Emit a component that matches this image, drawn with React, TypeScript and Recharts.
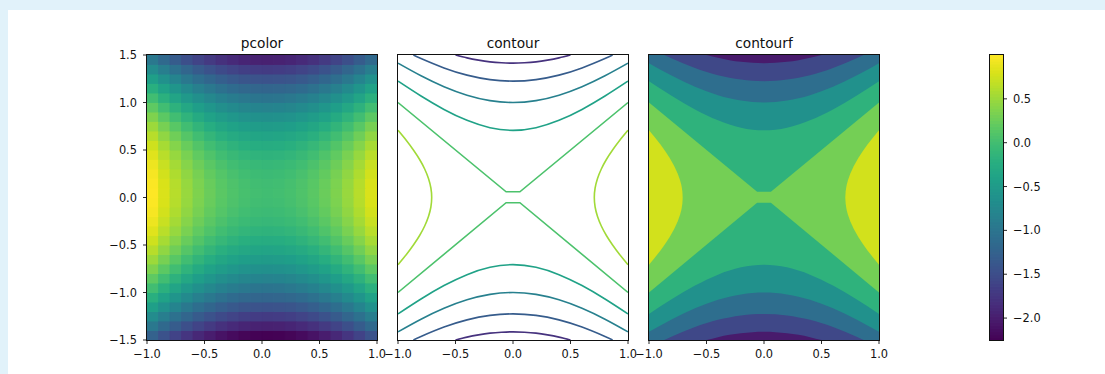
import React from 'react';
import { ComposedChart, XAxis, YAxis, Line, Area, ReferenceArea } from 'recharts';

// ---- axes / ticks ----
const X_TICKS = [-1, -0.5, 0, 0.5, 1];
const Y_TICKS = [-1.5, -1, -0.5, 0, 0.5, 1, 1.5];
const CBAR_TICKS = [-2, -1.5, -1, -0.5, 0, 0.5];
const LEVELS = [-2.5, -2, -1.5, -1, -0.5, 0, 0.5, 1];
const TITLES = ['pcolor', 'contour', 'contourf'];

// ---- pcolor grid (cell edges + values, bottom row first) ----
const PCOLOR_X = [-1, -0.9, -0.8, -0.7, -0.6, -0.5, -0.4, -0.3, -0.2, -0.1, 0, 0.1, 0.2, 0.3, 0.4, 0.5, 0.6, 0.7, 0.8, 0.9, 1];
const PCOLOR_Y = [-1.5, -1.4, -1.3, -1.2, -1.1, -1, -0.9, -0.8, -0.7, -0.6, -0.5, -0.4, -0.3, -0.2, -0.1, 0, 0.1, 0.2, 0.3, 0.4, 0.5, 0.6, 0.7, 0.8, 0.9, 1, 1.1, 1.2, 1.3, 1.4, 1.5];
const PCOLOR_Z = [
  [-1.25, -1.44, -1.61, -1.76, -1.89, -2.0, -2.09, -2.16, -2.21, -2.24, -2.25, -2.24, -2.21, -2.16, -2.09, -2.0, -1.89, -1.76, -1.61, -1.44],
  [-0.96, -1.15, -1.32, -1.47, -1.6, -1.71, -1.8, -1.87, -1.92, -1.95, -1.96, -1.95, -1.92, -1.87, -1.8, -1.71, -1.6, -1.47, -1.32, -1.15],
  [-0.69, -0.88, -1.05, -1.2, -1.33, -1.44, -1.53, -1.6, -1.65, -1.68, -1.69, -1.68, -1.65, -1.6, -1.53, -1.44, -1.33, -1.2, -1.05, -0.88],
  [-0.44, -0.63, -0.8, -0.95, -1.08, -1.19, -1.28, -1.35, -1.4, -1.43, -1.44, -1.43, -1.4, -1.35, -1.28, -1.19, -1.08, -0.95, -0.8, -0.63],
  [-0.21, -0.4, -0.57, -0.72, -0.85, -0.96, -1.05, -1.12, -1.17, -1.2, -1.21, -1.2, -1.17, -1.12, -1.05, -0.96, -0.85, -0.72, -0.57, -0.4],
  [0, -0.19, -0.36, -0.51, -0.64, -0.75, -0.84, -0.91, -0.96, -0.99, -1, -0.99, -0.96, -0.91, -0.84, -0.75, -0.64, -0.51, -0.36, -0.19],
  [0.19, 0, -0.17, -0.32, -0.45, -0.56, -0.65, -0.72, -0.77, -0.8, -0.81, -0.8, -0.77, -0.72, -0.65, -0.56, -0.45, -0.32, -0.17, 0],
  [0.36, 0.17, 0, -0.15, -0.28, -0.39, -0.48, -0.55, -0.6, -0.63, -0.64, -0.63, -0.6, -0.55, -0.48, -0.39, -0.28, -0.15, 0, 0.17],
  [0.51, 0.32, 0.15, 0, -0.13, -0.24, -0.33, -0.4, -0.45, -0.48, -0.49, -0.48, -0.45, -0.4, -0.33, -0.24, -0.13, 0, 0.15, 0.32],
  [0.64, 0.45, 0.28, 0.13, 0, -0.11, -0.2, -0.27, -0.32, -0.35, -0.36, -0.35, -0.32, -0.27, -0.2, -0.11, 0, 0.13, 0.28, 0.45],
  [0.75, 0.56, 0.39, 0.24, 0.11, 0, -0.09, -0.16, -0.21, -0.24, -0.25, -0.24, -0.21, -0.16, -0.09, 0, 0.11, 0.24, 0.39, 0.56],
  [0.84, 0.65, 0.48, 0.33, 0.2, 0.09, 0, -0.07, -0.12, -0.15, -0.16, -0.15, -0.12, -0.07, 0, 0.09, 0.2, 0.33, 0.48, 0.65],
  [0.91, 0.72, 0.55, 0.4, 0.27, 0.16, 0.07, 0, -0.05, -0.08, -0.09, -0.08, -0.05, 0, 0.07, 0.16, 0.27, 0.4, 0.55, 0.72],
  [0.96, 0.77, 0.6, 0.45, 0.32, 0.21, 0.12, 0.05, 0, -0.03, -0.04, -0.03, 0, 0.05, 0.12, 0.21, 0.32, 0.45, 0.6, 0.77],
  [0.99, 0.8, 0.63, 0.48, 0.35, 0.24, 0.15, 0.08, 0.03, 0, -0.01, 0, 0.03, 0.08, 0.15, 0.24, 0.35, 0.48, 0.63, 0.8],
  [1, 0.81, 0.64, 0.49, 0.36, 0.25, 0.16, 0.09, 0.04, 0.01, 0, 0.01, 0.04, 0.09, 0.16, 0.25, 0.36, 0.49, 0.64, 0.81],
  [0.99, 0.8, 0.63, 0.48, 0.35, 0.24, 0.15, 0.08, 0.03, 0, -0.01, 0, 0.03, 0.08, 0.15, 0.24, 0.35, 0.48, 0.63, 0.8],
  [0.96, 0.77, 0.6, 0.45, 0.32, 0.21, 0.12, 0.05, 0, -0.03, -0.04, -0.03, 0, 0.05, 0.12, 0.21, 0.32, 0.45, 0.6, 0.77],
  [0.91, 0.72, 0.55, 0.4, 0.27, 0.16, 0.07, 0, -0.05, -0.08, -0.09, -0.08, -0.05, 0, 0.07, 0.16, 0.27, 0.4, 0.55, 0.72],
  [0.84, 0.65, 0.48, 0.33, 0.2, 0.09, 0, -0.07, -0.12, -0.15, -0.16, -0.15, -0.12, -0.07, 0, 0.09, 0.2, 0.33, 0.48, 0.65],
  [0.75, 0.56, 0.39, 0.24, 0.11, 0, -0.09, -0.16, -0.21, -0.24, -0.25, -0.24, -0.21, -0.16, -0.09, 0, 0.11, 0.24, 0.39, 0.56],
  [0.64, 0.45, 0.28, 0.13, 0, -0.11, -0.2, -0.27, -0.32, -0.35, -0.36, -0.35, -0.32, -0.27, -0.2, -0.11, 0, 0.13, 0.28, 0.45],
  [0.51, 0.32, 0.15, 0, -0.13, -0.24, -0.33, -0.4, -0.45, -0.48, -0.49, -0.48, -0.45, -0.4, -0.33, -0.24, -0.13, 0, 0.15, 0.32],
  [0.36, 0.17, 0, -0.15, -0.28, -0.39, -0.48, -0.55, -0.6, -0.63, -0.64, -0.63, -0.6, -0.55, -0.48, -0.39, -0.28, -0.15, 0, 0.17],
  [0.19, 0, -0.17, -0.32, -0.45, -0.56, -0.65, -0.72, -0.77, -0.8, -0.81, -0.8, -0.77, -0.72, -0.65, -0.56, -0.45, -0.32, -0.17, 0],
  [0, -0.19, -0.36, -0.51, -0.64, -0.75, -0.84, -0.91, -0.96, -0.99, -1, -0.99, -0.96, -0.91, -0.84, -0.75, -0.64, -0.51, -0.36, -0.19],
  [-0.21, -0.4, -0.57, -0.72, -0.85, -0.96, -1.05, -1.12, -1.17, -1.2, -1.21, -1.2, -1.17, -1.12, -1.05, -0.96, -0.85, -0.72, -0.57, -0.4],
  [-0.44, -0.63, -0.8, -0.95, -1.08, -1.19, -1.28, -1.35, -1.4, -1.43, -1.44, -1.43, -1.4, -1.35, -1.28, -1.19, -1.08, -0.95, -0.8, -0.63],
  [-0.69, -0.88, -1.05, -1.2, -1.33, -1.44, -1.53, -1.6, -1.65, -1.68, -1.69, -1.68, -1.65, -1.6, -1.53, -1.44, -1.33, -1.2, -1.05, -0.88],
  [-0.96, -1.15, -1.32, -1.47, -1.6, -1.71, -1.8, -1.87, -1.92, -1.95, -1.96, -1.95, -1.92, -1.87, -1.8, -1.71, -1.6, -1.47, -1.32, -1.15],
];

// ---- contour curves (upper + lower branch) ----
const CURVES = [
  { level: 0, type: 'linear', x: [-1, -0.06, 0.06, 1], top: [1, 0.06, 0.06, 1], bottom: [-1, -0.055, -0.055, -1] },
  { level: -0.5, type: 'natural', x: [-1, -0.8, -0.6, -0.4, -0.2, 0, 0.2, 0.4, 0.6, 0.8, 1],
    top: [1.225, 1.068, 0.927, 0.812, 0.735, 0.707, 0.735, 0.812, 0.927, 1.068, 1.225],
    bottom: [-1.225, -1.068, -0.927, -0.812, -0.735, -0.707, -0.735, -0.812, -0.927, -1.068, -1.225] },
  { level: -1, type: 'natural', x: [-1, -0.8, -0.6, -0.4, -0.2, 0, 0.2, 0.4, 0.6, 0.8, 1],
    top: [1.414, 1.281, 1.166, 1.077, 1.02, 1, 1.02, 1.077, 1.166, 1.281, 1.414],
    bottom: [-1.414, -1.281, -1.166, -1.077, -1.02, -1, -1.02, -1.077, -1.166, -1.281, -1.414] },
  { level: -1.5, type: 'natural', x: [-0.866, -0.8, -0.6, -0.4, -0.2, 0, 0.2, 0.4, 0.6, 0.8, 0.866],
    top: [1.5, 1.463, 1.364, 1.288, 1.241, 1.225, 1.241, 1.288, 1.364, 1.463, 1.5],
    bottom: [-1.5, -1.463, -1.364, -1.288, -1.241, -1.225, -1.241, -1.288, -1.364, -1.463, -1.5] },
  { level: -2, type: 'natural', x: [-0.5, -0.4, -0.3, -0.2, -0.1, 0, 0.1, 0.2, 0.3, 0.4, 0.5],
    top: [1.5, 1.47, 1.446, 1.428, 1.418, 1.414, 1.418, 1.428, 1.446, 1.47, 1.5],
    bottom: [-1.5, -1.47, -1.446, -1.428, -1.418, -1.414, -1.418, -1.428, -1.446, -1.47, -1.5] },
];

// level 0.5 : the two side arcs (x read along y)
const SIDE_Y = [0.707, 0.6, 0.5, 0.4, 0.3, 0.2, 0.1, 0, -0.1, -0.2, -0.3, -0.4, -0.5, -0.6, -0.707];
const SIDE_RIGHT_X = [1, 0.927, 0.866, 0.812, 0.768, 0.735, 0.714, 0.707, 0.714, 0.735, 0.768, 0.812, 0.866, 0.927, 1];
const SIDE_LEFT_X = [-1, -0.927, -0.866, -0.812, -0.768, -0.735, -0.714, -0.707, -0.714, -0.735, -0.768, -0.812, -0.866, -0.927, -1];

// filled side lobes (value > 0.5), half-height read along x
const LOBE_RIGHT_X = [0.7071, 0.71, 0.715, 0.72, 0.73, 0.75, 0.78, 0.82, 0.86, 0.9, 0.95, 1];
const LOBE_LEFT_X = [-0.7071, -0.71, -0.715, -0.72, -0.73, -0.75, -0.78, -0.82, -0.86, -0.9, -0.95, -1];
const LOBE_HALF = [0, 0.064, 0.106, 0.136, 0.181, 0.25, 0.329, 0.415, 0.489, 0.557, 0.634, 0.707];

// ---- viridis ----
const VIRIDIS = ['#440154', '#48186a', '#472d7b', '#424086', '#3b528b', '#33638d', '#2c728e', '#26828e', '#21918c',
  '#1fa088', '#28ae80', '#3fbc73', '#5ec962', '#84d44b', '#addc30', '#d8e219', '#fde725'];
const rgb = (h: string) => [1, 3, 5].map(i => parseInt(h.slice(i, i + 2), 16));
function viridis(t: number) {
  const c = Math.min(1, Math.max(0, t)) * (VIRIDIS.length - 1);
  const i = Math.min(Math.floor(c), VIRIDIS.length - 2);
  const f = c - i;
  const a = rgb(VIRIDIS[i]), b = rgb(VIRIDIS[i + 1]);
  return `rgb(${a.map((v, k) => Math.round(v + (b[k] - v) * f)).join(',')})`;
}

const Z_MIN = Math.min(...PCOLOR_Z.flat());
const Z_MAX = Math.max(...PCOLOR_Z.flat());
const L_MIN = LEVELS[0];
const L_MAX = LEVELS[LEVELS.length - 1];
const levelColor = (v: number) => viridis((v - L_MIN) / (L_MAX - L_MIN));

// ---- layout ----
const FONT = '"DejaVu Sans", sans-serif';
const INK = '#111';
const TICK_FS = 11.4;
const PLOT_TOP = 55;
const PLOT_H = 285;
const PANEL_W = 230;
const PANEL_LEFT = [147, 398, 649];
const CBAR_LEFT = 990;
const CBAR_W = 13;
const CBAR_STEPS = 96;
const YW = 50, RP = 25, TP = 10, XH = 30;

const fmt = (v: number) => v.toFixed(1).replace('-', '\u2212');
const tickStyle = { fill: INK, fontSize: TICK_FS, fontFamily: FONT };
const tickLine = { stroke: INK, strokeWidth: 0.9 };

const Panel = ({ idx, yLabels, children }: { idx: number; yLabels: boolean; children: React.ReactNode }) => {
  const left = PANEL_LEFT[idx];
  return (
    <>
      <div style={{ position: 'absolute', left: left - YW, top: PLOT_TOP - TP }}>
        <ComposedChart width={YW + PANEL_W + RP} height={TP + PLOT_H + XH}
          margin={{ top: TP, right: RP, bottom: 0, left: 0 }}>
          <XAxis type="number" dataKey="x" domain={[-1, 1]} ticks={X_TICKS} interval={0}
            allowDataOverflow height={XH} tickFormatter={fmt} tick={tickStyle}
            tickLine={tickLine} tickSize={4} tickMargin={6} axisLine={false} />
          <YAxis type="number" domain={[-1.5, 1.5]} ticks={Y_TICKS} interval={0} allowDataOverflow
            width={YW} tickFormatter={fmt} tick={yLabels ? tickStyle : false}
            tickLine={yLabels ? tickLine : false} tickSize={4} tickMargin={6} axisLine={false} />
          {children}
        </ComposedChart>
      </div>
      <div style={{ position: 'absolute', left: left - 1, top: PLOT_TOP - 1, width: PANEL_W + 2, height: PLOT_H + 2,
        border: `1px solid ${INK}`, boxSizing: 'border-box', pointerEvents: 'none' }} />
      <div style={{ position: 'absolute', left, top: 35, width: PANEL_W, textAlign: 'center',
        fontFamily: FONT, fontSize: 13.7, lineHeight: '16px', color: INK }}>{TITLES[idx]}</div>
    </>
  );
};

export default function App() {
  // pcolor cells
  const cells = PCOLOR_Z.flatMap((row, i) => row.map((z, j) => {
    const fill = viridis((z - Z_MIN) / (Z_MAX - Z_MIN));
    return (
      <ReferenceArea key={`c${i}-${j}`} x1={PCOLOR_X[j]} x2={PCOLOR_X[j + 1]} y1={PCOLOR_Y[i]} y2={PCOLOR_Y[i + 1]}
        fill={fill} fillOpacity={1} stroke={fill} strokeWidth={0.9} ifOverflow="visible" />
    );
  }));

  // contour lines
  const lines: React.ReactNode[] = [];
  CURVES.forEach(c => {
    const color = levelColor(c.level);
    (['top', 'bottom'] as const).forEach(side => {
      lines.push(
        <Line key={`l${c.level}${side}`} data={c.x.map((x, i) => ({ x, y: c[side][i] }))} dataKey="y"
          type={c.type as any} stroke={color} strokeWidth={1.6} dot={false} activeDot={false} isAnimationActive={false} />
      );
    });
  });
  [SIDE_RIGHT_X, SIDE_LEFT_X].forEach((xs, k) => {
    lines.push(
      <Line key={`side${k}`} data={xs.map((x, i) => ({ x, y: SIDE_Y[i] }))} dataKey="y" type="natural"
        stroke={levelColor(0.5)} strokeWidth={1.6} dot={false} activeDot={false} isAnimationActive={false} />
    );
  });

  // filled contours: background band then bands towards top/bottom, then side lobes
  const areaProps = { stroke: 'none', fillOpacity: 1, dot: false, activeDot: false, isAnimationActive: false } as const;
  const fills: React.ReactNode[] = [
    <Area key="bg" data={[{ x: -1, r: [-1.5, 1.5] }, { x: 1, r: [-1.5, 1.5] }]} dataKey="r" type="linear"
      fill={levelColor((LEVELS[5] + LEVELS[6]) / 2)} {...areaProps} />,
  ];
  CURVES.forEach(c => {
    const fill = levelColor(c.level - 0.25);
    fills.push(
      <Area key={`ft${c.level}`} data={c.x.map((x, i) => ({ x, r: [c.top[i], 1.5] }))} dataKey="r"
        type={c.type as any} fill={fill} {...areaProps} />,
      <Area key={`fb${c.level}`} data={c.x.map((x, i) => ({ x, r: [-1.5, c.bottom[i]] }))} dataKey="r"
        type={c.type as any} fill={fill} {...areaProps} />
    );
  });
  [LOBE_RIGHT_X, LOBE_LEFT_X].forEach((xs, k) => {
    fills.push(
      <Area key={`lobe${k}`} data={xs.map((x, i) => ({ x, r: [-LOBE_HALF[i], LOBE_HALF[i]] }))} dataKey="r"
        type="linear" fill={levelColor((LEVELS[6] + LEVELS[7]) / 2)} {...areaProps} />
    );
  });

  // colorbar slices
  const step = (Z_MAX - Z_MIN) / CBAR_STEPS;
  const cbar = Array.from({ length: CBAR_STEPS }, (_, k) => {
    const fill = viridis((k + 0.5) / CBAR_STEPS);
    return (
      <ReferenceArea key={`cb${k}`} x1={0} x2={1} y1={Z_MIN + k * step} y2={Z_MIN + (k + 1) * step}
        fill={fill} fillOpacity={1} stroke={fill} strokeWidth={1.4} ifOverflow="visible" />
    );
  });

  return (
    <div style={{ position: 'absolute', left: 0, top: 0, width: 1105, height: 374, background: '#e1f2fa', overflow: 'hidden' }}>
      <div style={{ position: 'absolute', left: 8, top: 10, right: 0, bottom: 0, background: '#fff' }} />

      <Panel idx={0} yLabels>{cells}</Panel>
      <Panel idx={1} yLabels={false}>{lines}</Panel>
      <Panel idx={2} yLabels={false}>{fills}</Panel>

      {/* colorbar */}
      <div style={{ position: 'absolute', left: CBAR_LEFT, top: PLOT_TOP - TP }}>
        <ComposedChart width={CBAR_W + YW} height={TP + PLOT_H + 10} margin={{ top: TP, right: 0, bottom: 10, left: 0 }}>
          <XAxis type="number" dataKey="x" domain={[0, 1]} hide allowDataOverflow />
          <YAxis type="number" orientation="right" domain={[Z_MIN, Z_MAX]} ticks={CBAR_TICKS} interval={0}
            allowDataOverflow width={YW} tickFormatter={fmt} tick={tickStyle} tickLine={tickLine}
            tickSize={4} tickMargin={6} axisLine={false} />
          {cbar}
        </ComposedChart>
      </div>
      <div style={{ position: 'absolute', left: CBAR_LEFT - 1, top: PLOT_TOP - 1, width: CBAR_W + 2, height: PLOT_H + 2,
        border: `1px solid ${INK}`, boxSizing: 'border-box', pointerEvents: 'none' }} />
    </div>
  );
}
